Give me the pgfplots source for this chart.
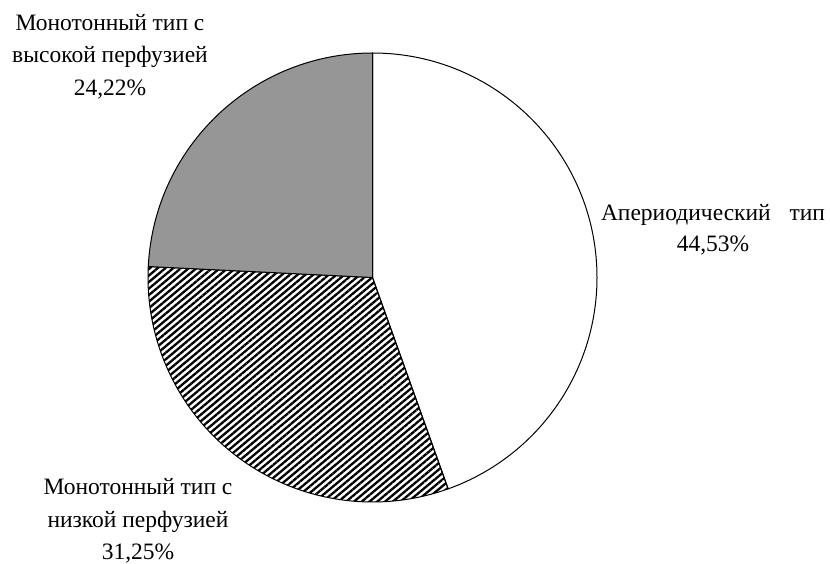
\documentclass[border=0pt]{standalone}
\usepackage{fontspec}
\setmainfont{Liberation Serif}
\usepackage{pgfplots}
\pgfplotsset{compat=1.18}
\usepackage{pgfplotstable}
\usetikzlibrary{patterns.meta}

\definecolor{slicegray}{RGB}{150,150,150}
\tikzset{lbl/.style={inner sep=0pt, anchor=base, font=\fontsize{23.5}{28}\selectfont}}

% Shares of the three perfusion types, in per cent (clockwise from the top)
\pgfplotstableread{
share
44.53
31.25
24.22
}\shares

\begin{document}
\begin{tikzpicture}
\pgfplotstablegetelem{0}{share}\of\shares \let\sA\pgfplotsretval
\pgfplotstablegetelem{1}{share}\of\shares \let\sB\pgfplotsretval
\pgfplotstablegetelem{2}{share}\of\shares \let\sC\pgfplotsretval
\pgfmathsetmacro{\aA}{90-3.6*\sA}
\pgfmathsetmacro{\aB}{\aA-3.6*\sB}
\pgfmathsetmacro{\aC}{\aB-3.6*\sC}
\def\cx{372.5}\def\cy{285.5}\def\r{224.5}
\newcommand{\pct}[1]{\pgfmathprintnumber[fixed,precision=2,fixed zerofill,use comma,assume math mode=true]{#1}\%}
\begin{axis}[
  x=1pt, y=1pt,
  xmin=0, xmax=830, ymin=0, ymax=563,
  hide axis, clip=false,
]
  % full drawing area
  \path (axis cs:0,0) rectangle (axis cs:830,563);

  % slices
  \filldraw[fill=white, draw=black, line width=1pt, line join=round]
    (axis cs:\cx,\cy) -- ++(90:\r pt) arc[start angle=90, end angle=\aA, radius=\r pt] -- cycle;
  \fill[pattern={Lines[angle=40, distance=5pt, line width=2.3pt]}, pattern color=black]
    (axis cs:\cx,\cy) -- ++(\aA:\r pt) arc[start angle=\aA, end angle=\aB, radius=\r pt] -- cycle;
  \draw[black, line width=1pt, line join=round]
    (axis cs:\cx,\cy) -- ++(\aA:\r pt) arc[start angle=\aA, end angle=\aB, radius=\r pt] -- cycle;
  \filldraw[fill=slicegray, draw=black, line width=1pt, line join=round]
    (axis cs:\cx,\cy) -- ++(\aB:\r pt) arc[start angle=\aB, end angle=\aC, radius=\r pt] -- cycle;

  % labels
  \node[lbl] at (axis cs:110,532) {Монотонный тип с};
  \node[lbl] at (axis cs:110,500) {высокой перфузией};
  \node[lbl] at (axis cs:110,467) {\pct{\sC}};

  \node[lbl] at (axis cs:713,342) {Апериодический\hspace{0.8em}тип};
  \node[lbl] at (axis cs:713,311) {\pct{\sA}};

  \node[lbl] at (axis cs:138,68) {Монотонный тип с};
  \node[lbl] at (axis cs:138,35) {низкой перфузией};
  \node[lbl] at (axis cs:138,3) {\pct{\sB}};
\end{axis}
\end{tikzpicture}
\end{document}
